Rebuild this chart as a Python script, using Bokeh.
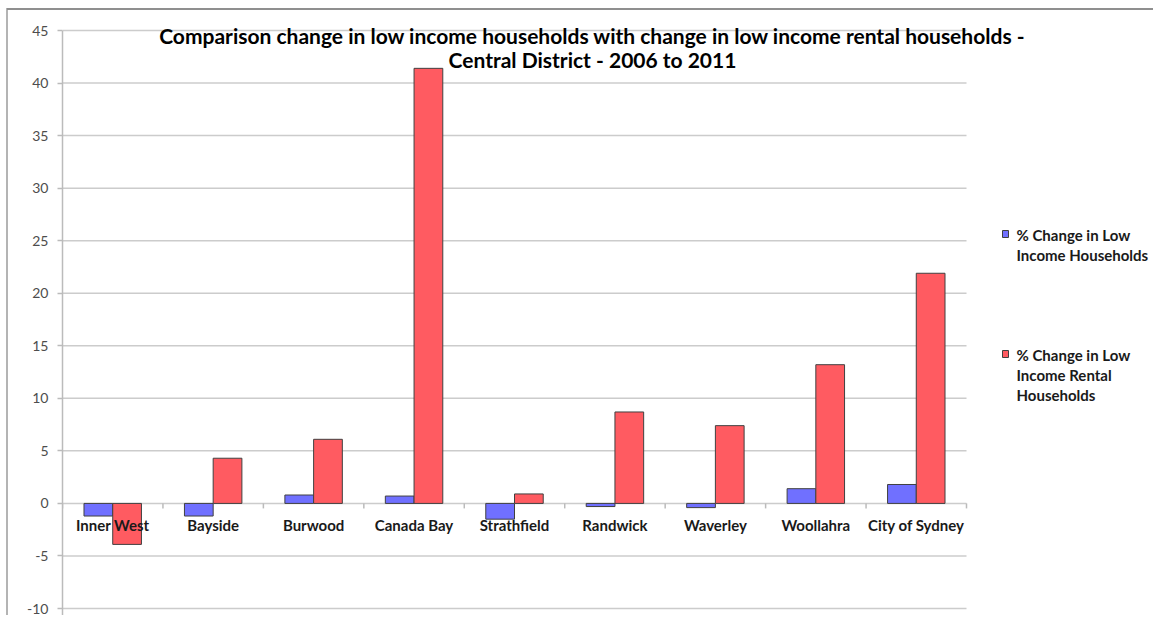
from math import pi
from bokeh.plotting import figure
from bokeh.models import Range1d, SingleIntervalTicker, Label, BoxAnnotation, PrintfTickFormatter
from bokeh.core.properties import value
from bokeh.embed import file_html
from bokeh.resources import INLINE

categories = ["Inner West", "Bayside", "Burwood", "Canada Bay", "Strathfield",
              "Randwick", "Waverley", "Woollahra", "City of Sydney"]
low_income = [-1.2, -1.2, 0.8, 0.7, -1.5, -0.3, -0.4, 1.4, 1.8]
low_income_rental = [-3.9, 4.3, 6.1, 41.4, 0.9, 8.7, 7.4, 13.2, 21.9]
series_labels = [["% Change in Low", "Income Households"],
                 ["% Change in Low", "Income Rental", "Households"]]
title_lines = ["Comparison change in low income households with change in low income rental households -",
               "Central District - 2006 to 2011"]
y_min, y_max, y_step = -10, 45, 5
y_ticks = list(range(y_min, y_max + 1, y_step))

BLUE = "#7070FF"
RED = "#FF5B61"
EDGE = "#404040"
GRID = "#cccccc"
FONT = "Lato"

# layout (pixels)
W, H = 1153, 615
ML = 62
AREA_W, AREA_TOP, AREA_BOTTOM = 904, 30, 608   # plot area of the bars
FW, FH = W - ML, H

n = len(categories)
px_x = AREA_W / n
px_y = (AREA_BOTTOM - AREA_TOP) / (y_max - y_min)
x_end = FW / px_x
y_end = y_max + AREA_TOP / px_y
y_start = y_min - (H - AREA_BOTTOM) / px_y

p = figure(width=W, height=H, output_backend="svg", toolbar_location=None,
           x_range=Range1d(0, x_end), y_range=Range1d(y_start, y_end),
           min_border_left=ML, min_border_right=0, min_border_top=0, min_border_bottom=0)
p.border_fill_color = None
p.background_fill_color = None
p.styles = {
    "background": ("linear-gradient(#8f8f8f,#8f8f8f) 7px 8px / 100% 2px no-repeat, "
                   "linear-gradient(#b4b4b4,#b4b4b4) 6px 8px / 2px 100% no-repeat, #ffffff"),
}
p.outline_line_color = None
p.xaxis.visible = False
p.xgrid.visible = False
p.ygrid.visible = False

ax = p.yaxis[0]
ax.ticker = SingleIntervalTicker(interval=y_step)
ax.formatter = PrintfTickFormatter(format="%d")
ax.bounds = (y_start, y_max)
ax.minor_tick_line_color = None
ax.major_tick_in = 0
ax.major_tick_out = 5
ax.axis_line_color = "#bbbbbb"
ax.axis_line_width = 1.5
ax.major_tick_line_color = "#bbbbbb"
ax.major_tick_line_width = 1.5
ax.major_label_text_font = FONT
ax.major_label_text_font_size = "14px"
ax.major_label_text_color = "#4d4d4d"
ax.major_label_standoff = 9

# horizontal gridlines across the bar area only
p.segment(x0=[0] * len(y_ticks), x1=[n] * len(y_ticks), y0=y_ticks, y1=y_ticks,
          line_color=GRID, line_width=1.5)

bw = 0.286
centers = [i + 0.5 for i in range(n)]
p.vbar(x=[c - bw / 2 for c in centers], top=low_income, bottom=0, width=bw,
       fill_color=BLUE, line_color=EDGE, line_width=1)
p.vbar(x=[c + bw / 2 for c in centers], top=low_income_rental, bottom=0, width=bw,
       fill_color=RED, line_color=EDGE, line_width=1)

# category boundary tick marks on the zero line
p.ray(x=list(range(n + 1)), y=[0] * (n + 1), length=5, length_units="screen",
      angle=-pi / 2, line_color="#bbbbbb", line_width=1.5)

p.text(x=centers, y=[0] * n, text=categories, text_align="center", text_baseline="middle",
       y_offset=22, text_font=value(FONT), text_font_style="bold", text_font_size="15px",
       text_color="#1a1a1a")

# title (screen units are measured from the frame's bottom-left corner)
title_x, title_y = 592 - ML, H - 35
for k, line in enumerate(title_lines):
    p.add_layout(Label(x=title_x, y=title_y - 24 * k, x_units="screen", y_units="screen",
                       text=line, text_align="center", text_baseline="middle",
                       text_font=FONT, text_font_style="bold", text_font_size="21px",
                       text_color="#000000"))

# legend
leg_colors = [BLUE, RED]
leg_first_line = [H - 234, H - 354]
for s in range(2):
    y0 = leg_first_line[s]
    p.add_layout(BoxAnnotation(left=940, right=946, bottom=y0 - 3, top=y0 + 4,
                               left_units="screen", right_units="screen",
                               bottom_units="screen", top_units="screen",
                               fill_color=leg_colors[s], fill_alpha=1,
                               line_color=EDGE, line_width=1, line_alpha=1))
    for k, line in enumerate(series_labels[s]):
        p.add_layout(Label(x=954, y=y0 - 20 * k, x_units="screen", y_units="screen", text=line,
                           text_align="left", text_baseline="middle", text_font=FONT,
                           text_font_style="bold", text_font_size="15px", text_color="#1a1a1a"))

open("out.html", "w").write(file_html(p, INLINE))
